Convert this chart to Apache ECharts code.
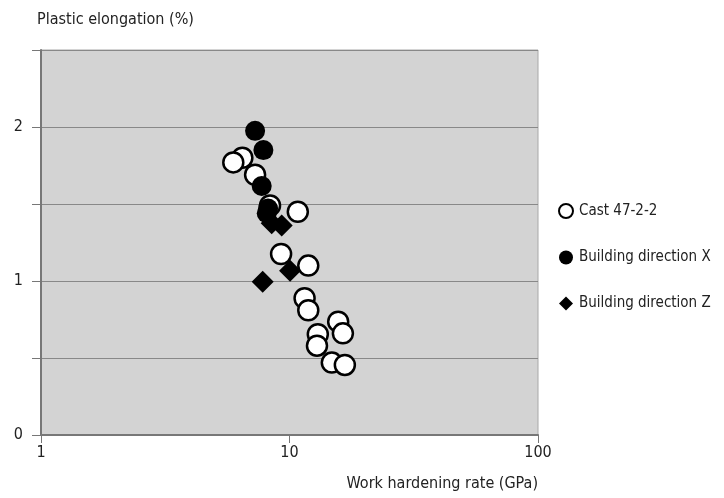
<!DOCTYPE html>
<html>
<head>
<meta charset="utf-8">
<script src="https://cdn.jsdelivr.net/npm/echarts@6/dist/echarts.min.js"></script>
<style>
  html, body { margin: 0; padding: 0; background: #fff; }
  #chart { width: 724px; height: 498px; }
</style>
</head>
<body>
<div id="chart"></div>
<script>
// data: [work hardening rate (GPa), plastic elongation (%)]
const castData = [
  [6.46, 1.80], [5.94, 1.77], [7.27, 1.69], [8.35, 1.49], [10.8, 1.45],
  [9.25, 1.175], [11.9, 1.10], [11.5, 0.888], [11.9, 0.81], [15.7, 0.736],
  [16.4, 0.66], [13.0, 0.654], [12.9, 0.58], [14.8, 0.47], [16.7, 0.455]
];
const dirXData = [[7.27, 1.975], [7.85, 1.85], [7.73, 1.617], [8.2, 1.47], [8.1, 1.44]];
const dirZData = [[8.48, 1.375], [9.3, 1.36], [10.05, 1.067], [7.8, 0.995]];
const seriesNames = ["Cast 47-2-2", "Building direction X", "Building direction Z"];

const font = '"DejaVu Sans Condensed", "Liberation Sans", sans-serif';
const chart = echarts.init(document.getElementById("chart"));

chart.setOption({
  animation: false,
  textStyle: { fontFamily: font },
  grid: {
    left: 41, right: 186, top: 50, bottom: 63,
    show: true,
    backgroundColor: "#d3d3d3",
    borderColor: "#a8a8a8",
    borderWidth: 1
  },
  legend: {
    orient: "vertical",
    left: 553,
    top: 198,
    itemGap: 31,
    itemWidth: 14,
    itemHeight: 14,
    textStyle: { fontFamily: font, fontSize: 15, color: "#222", padding: [0, 0, 0, 1] },
    data: [
      { name: seriesNames[0], icon: "circle", itemStyle: { color: "#fff", borderColor: "#000", borderWidth: 2 } },
      { name: seriesNames[1], icon: "circle", itemStyle: { color: "#000" } },
      { name: seriesNames[2], icon: "diamond", itemStyle: { color: "#000" } }
    ]
  },
  xAxis: {
    type: "log",
    logBase: 10,
    min: 1,
    max: 100,
    name: "Work hardening rate (GPa)",
    nameLocation: "end",
    nameGap: 0,
    nameTextStyle: {
      fontFamily: font, fontSize: 16, color: "#222",
      align: "right", verticalAlign: "top", padding: [41, 0, 0, 0]
    },
    axisLine: { show: true, lineStyle: { color: "#777", width: 2 } },
    axisTick: { show: true, length: 8, lineStyle: { color: "#777" } },
    axisLabel: { fontFamily: font, fontSize: 16, color: "#222", margin: 10 },
    splitLine: { show: false },
    minorTick: { show: false }
  },
  yAxis: {
    type: "value",
    min: 0,
    max: 2.5,
    interval: 0.5,
    name: "Plastic elongation (%)",
    nameLocation: "end",
    nameGap: 0,
    nameTextStyle: {
      fontFamily: font, fontSize: 16, color: "#222",
      align: "left", verticalAlign: "bottom", padding: [0, 0, 22, -4]
    },
    axisLine: { show: true, lineStyle: { color: "#777", width: 2 } },
    axisTick: { show: true, length: 9, lineStyle: { color: "#777" } },
    axisLabel: {
      fontFamily: font, fontSize: 16, color: "#222", margin: 18,
      formatter: function (v) { return Number.isInteger(v) ? String(v) : ""; }
    },
    splitLine: { show: true, lineStyle: { color: "#888", width: 1 } }
  },
  series: [
    {
      name: seriesNames[0],
      type: "scatter",
      symbol: "circle",
      symbolSize: 20,
      z: 2,
      itemStyle: { color: "#fff", borderColor: "#000", borderWidth: 2.5, opacity: 1 },
      data: castData
    },
    {
      name: seriesNames[1],
      type: "scatter",
      symbol: "circle",
      symbolSize: 20,
      z: 3,
      itemStyle: { color: "#000", opacity: 1 },
      data: dirXData
    },
    {
      name: seriesNames[2],
      type: "scatter",
      symbol: "diamond",
      symbolSize: 22,
      z: 4,
      itemStyle: { color: "#000", opacity: 1 },
      data: dirZData
    }
  ]
});
</script>
</body>
</html>
